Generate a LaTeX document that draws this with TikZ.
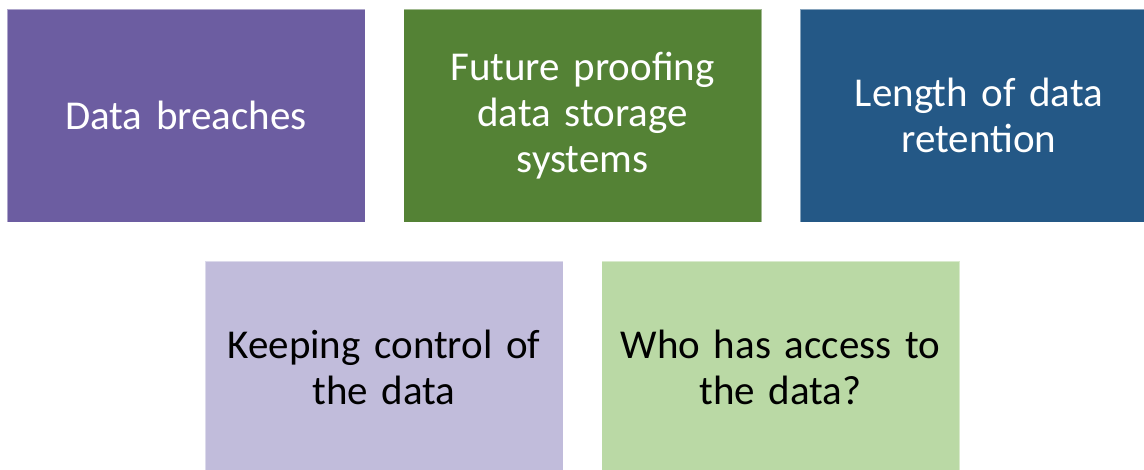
\documentclass[tikz,border=0pt]{standalone}
\usepackage{fontspec}
\setmainfont{Carlito}[WordSpace=0.85]
\definecolor{cpurple}{HTML}{6C5DA1}
\definecolor{cgreen}{HTML}{548235}
\definecolor{cblue}{HTML}{245886}
\definecolor{clpurple}{HTML}{C1BCDB}
\definecolor{clgreen}{HTML}{BAD9A5}
\begin{document}
\begin{tikzpicture}[x=1pt,y=1pt,
  card/.style={rectangle, minimum width=358pt, minimum height=213pt, inner sep=0pt,
    draw=white, draw opacity=0.45, line width=0.8pt, align=center, text width=340pt,
    font=\fontsize{41}{46}\selectfont},
  dark/.style={card, text=white},
  light/.style={card, text=black}]
\useasboundingbox (0,0) rectangle (1144,470);
\clip (0,0) rectangle (1144,470);
\node[dark, fill=cpurple] (b1) at (186,354.5) {Data breaches};
\node[dark, fill=cgreen] (b2) at (582.5,354.5) {Future proofing\\data storage\\systems};
\node[dark, fill=cblue] (b3) at (979,354.5) {Length of data\\retention};
\node[light, fill=clpurple] (b4) at (384,102.5) {Keeping control of\\the data};
\node[light, fill=clgreen] (b5) at (780.5,102.5) {Who has access to\\the data?};
\end{tikzpicture}
\end{document}
